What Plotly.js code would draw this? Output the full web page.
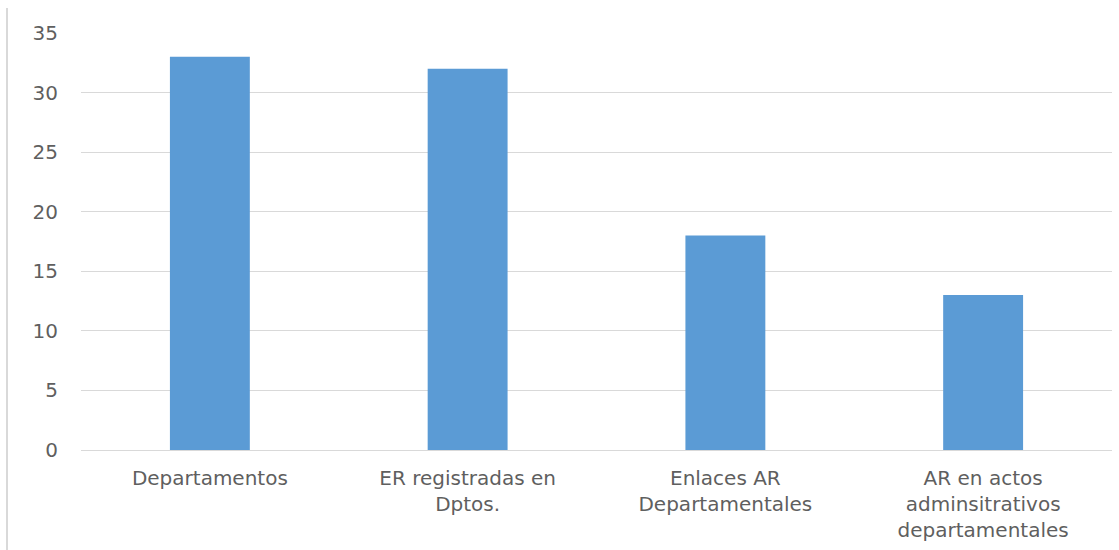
<!DOCTYPE html>
<html>
<head>
<meta charset="utf-8">
<script src="https://cdn.plot.ly/plotly-3.0.1.min.js"></script>
<style>
html,body{margin:0;padding:0;background:#fff;}
#wrap{position:relative;width:1119px;height:550px;}
#chart{width:1119px;height:550px;}
#border{position:absolute;left:6px;top:8px;width:2px;height:542px;background:#d9d9d9;}
</style>
</head>
<body>
<div id="wrap"><div id="chart"></div><div id="border"></div></div>
<script>
const categories = ["Departamentos", "ER registradas en<br>Dptos.", "Enlaces AR<br>Departamentales", "AR en actos<br>adminsitrativos<br>departamentales"];
const values = [33, 32, 18, 13];
const yTicks = [0, 5, 10, 15, 20, 25, 30, 35];

const trace = {
  type: 'bar',
  x: categories,
  y: values,
  marker: {color: '#5B9BD5'},
  hoverinfo: 'skip'
};
const layout = {
  width: 1119, height: 550,
  margin: {l: 81, r: 7, t: 33, b: 100},
  paper_bgcolor: '#fff', plot_bgcolor: '#fff',
  bargap: 0.69,
  showlegend: false,
  font: {family: 'DejaVu Sans', size: 20, color: '#595959'},
  xaxis: {
    showgrid: false, showline: false, zeroline: false, ticks: '',
    ticklabelstandoff: 14,
    tickfont: {family: 'DejaVu Sans', size: 20, color: '#5f5f5f'},
    tickangle: 0
  },
  yaxis: {
    range: [0, 35], tickvals: yTicks, ticktext: yTicks.map(String),
    showgrid: true, gridcolor: '#d9d9d9', gridwidth: 1,
    zeroline: true, zerolinecolor: '#d9d9d9', zerolinewidth: 1,
    showline: false, ticks: '', ticklabelstandoff: 22,
    tickfont: {family: 'DejaVu Sans', size: 20, color: '#5f5f5f'}
  }
};
Plotly.newPlot('chart', [trace], layout, {displayModeBar: false, staticPlot: true});
</script>
</body>
</html>
